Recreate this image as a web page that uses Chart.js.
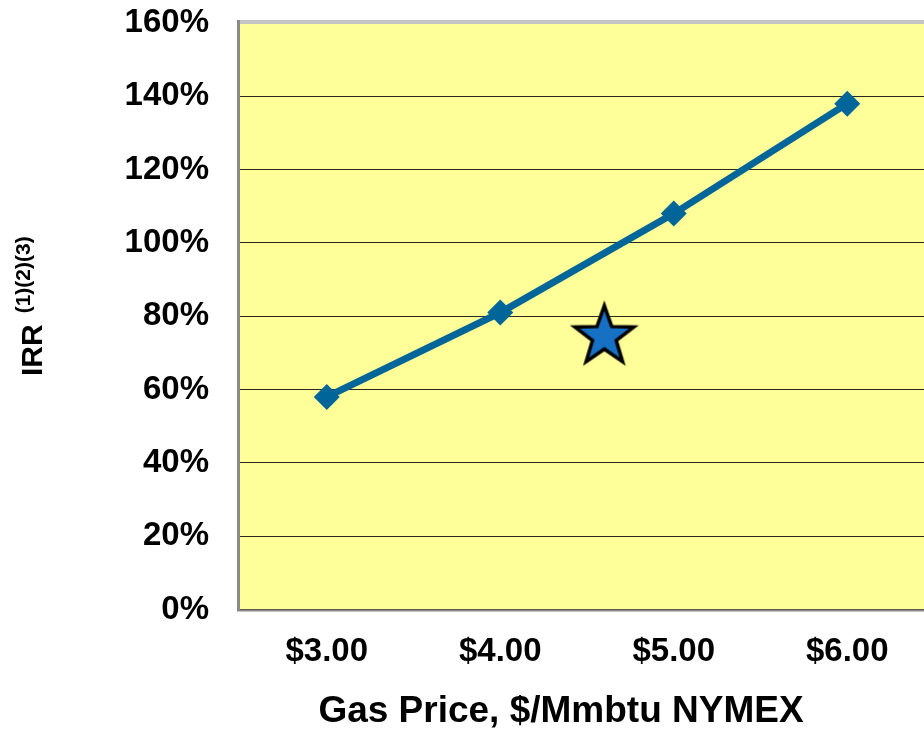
<!DOCTYPE html>
<html>
<head>
<meta charset="utf-8">
<script src="https://cdn.jsdelivr.net/npm/chart.js@4/dist/chart.umd.min.js"></script>
<style>
  html, body { margin: 0; padding: 0; background: #fff; overflow: hidden; }
</style>
</head>
<body>
<canvas id="irrChart" width="940" height="730"></canvas>
<script>
// gas price scenarios ($/Mmbtu) and the IRR at each
const gasPrices = [3, 4, 5, 6];
const irrValues = [58, 81, 108, 138];
// the star: current strip price case
const starPrice = [4.6];
const starIrr = [75];
const yTicks = [0, 20, 40, 60, 80, 100, 120, 140, 160];

const FONT = "'Liberation Sans', Arial, sans-serif";

// filled five point star for the marker
function makeStar() {
  const c = document.createElement('canvas');
  c.width = 72; c.height = 72;
  const g = c.getContext('2d');
  const R = 31, r = 12.5;
  g.beginPath();
  for (let i = 0; i < 10; i++) {
    const rad = (i % 2 === 0) ? R : r;
    const a = -Math.PI / 2 + i * Math.PI / 5;
    const px = 36 + rad * Math.cos(a), py = 38 + rad * Math.sin(a);
    if (i === 0) g.moveTo(px, py); else g.lineTo(px, py);
  }
  g.closePath();
  g.fillStyle = '#1670c4';
  g.fill();
  g.lineJoin = 'miter';
  g.lineWidth = 3.5;
  g.strokeStyle = '#000';
  g.stroke();
  return c;
}

// yellow plot area with grey frame, axis titles
const framePlugin = {
  id: 'frame',
  beforeDraw(chart) {
    const { ctx, chartArea: a } = chart;
    ctx.save();
    ctx.fillStyle = '#ffff99';
    ctx.fillRect(a.left, a.top, a.right - a.left, a.bottom - a.top);
    ctx.restore();
  },
  beforeDatasetsDraw(chart) {
    const { ctx, chartArea: a } = chart;
    ctx.save();
    ctx.strokeStyle = '#c4c4c4';
    ctx.lineWidth = 4;
    ctx.beginPath(); ctx.moveTo(a.left - 2, a.top - 1); ctx.lineTo(a.right + 10, a.top - 1); ctx.stroke();
    ctx.strokeStyle = '#8a8a8a';
    ctx.lineWidth = 3;
    ctx.beginPath(); ctx.moveTo(a.left - 1.5, a.top - 3); ctx.lineTo(a.left - 1.5, a.bottom + 1); ctx.stroke();
    ctx.lineWidth = 2;
    ctx.beginPath(); ctx.moveTo(a.left - 3, a.bottom + 1); ctx.lineTo(a.right + 10, a.bottom + 1); ctx.stroke();
    ctx.restore();
  },
  afterDraw(chart) {
    const { ctx } = chart;
    ctx.save();
    ctx.fillStyle = '#000';
    // x title
    ctx.font = 'bold 37px ' + FONT;
    ctx.textAlign = 'center';
    ctx.textBaseline = 'middle';
    ctx.fillText('Gas Price, $/Mmbtu NYMEX', 561, 712);
    // y title, rotated, with superscript notes
    ctx.translate(0, 376);
    ctx.rotate(-Math.PI / 2);
    ctx.textAlign = 'left';
    ctx.textBaseline = 'alphabetic';
    ctx.font = 'bold 30px ' + FONT;
    ctx.fillText('IRR', 0, 42);
    const w = ctx.measureText('IRR').width;
    ctx.font = 'bold 21px ' + FONT;
    ctx.fillText('(1)(2)(3)', w + 11, 30);
    ctx.restore();
  }
};

const ctx = document.getElementById('irrChart').getContext('2d');
new Chart(ctx, {
  type: 'line',
  data: {
    datasets: [
      {
        label: 'IRR',
        data: gasPrices.map((p, i) => ({ x: p, y: irrValues[i] })),
        borderColor: '#006699',
        backgroundColor: '#006699',
        borderWidth: 7,
        pointStyle: 'rectRot',
        pointRadius: 13,
        pointBorderWidth: 0,
        tension: 0
      },
      {
        label: 'Strip',
        data: starPrice.map((p, i) => ({ x: p, y: starIrr[i] })),
        showLine: false,
        pointStyle: makeStar(),
        pointRadius: 30
      }
    ]
  },
  options: {
    responsive: false,
    devicePixelRatio: 1,
    animation: false,
    layout: { autoPadding: false, padding: { top: 23, right: 6, left: 0, bottom: 0 } },
    plugins: {
      legend: { display: false },
      tooltip: { enabled: false }
    },
    scales: {
      x: {
        type: 'linear',
        min: 2.5,
        max: 6.5,
        afterBuildTicks: s => { s.ticks = gasPrices.map(v => ({ value: v })); },
        afterFit: s => { s.height = 120.5; s.paddingLeft = 0; s.paddingRight = 0; },
        grid: { display: false, drawTicks: false },
        border: { display: false },
        ticks: {
          padding: 23,
          color: '#000',
          font: { family: FONT, size: 33, weight: 'bold' },
          callback: v => '$' + Number(v).toFixed(2)
        }
      },
      y: {
        min: 0,
        max: 160,
        afterBuildTicks: s => { s.ticks = yTicks.map(v => ({ value: v })); },
        afterFit: s => { s.width = 240; s.paddingTop = 0; s.paddingBottom = 0; },
        grid: { color: '#2a2a1a', lineWidth: 1, drawTicks: false },
        border: { display: false },
        ticks: {
          padding: 31,
          color: '#000',
          font: { family: FONT, size: 33, weight: 'bold' },
          callback: v => v + '%'
        }
      }
    }
  },
  plugins: [framePlugin]
});
</script>
</body>
</html>
